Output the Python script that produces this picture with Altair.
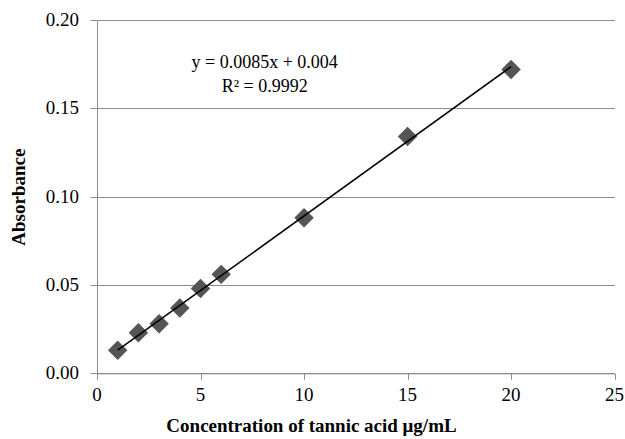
import altair as alt
import pandas as pd

conc = [1, 2, 3, 4, 5, 6, 10, 15, 20]
absorb = [0.013, 0.023, 0.028, 0.037, 0.048, 0.056, 0.088, 0.134, 0.172]

x_ticks = [0, 5, 10, 15, 20, 25]
y_ticks = [0, 0.05, 0.1, 0.15, 0.2]

eq_x = [8.1, 8.1]
eq_y = [0.1757, 0.162]
eq_text = ["y = 0.0085x + 0.004", "R² = 0.9992"]

df = pd.DataFrame({"x": conc, "y": absorb})
ann = pd.DataFrame({"x": eq_x, "y": eq_y, "t": eq_text})
xt = pd.DataFrame({"v": x_ticks})
yt = pd.DataFrame({"v": y_ticks})

FONT = "Liberation Serif"
GRID = "#8c8c8c"

xs = alt.Scale(domain=[0, 25], nice=False, zero=False)
ys = alt.Scale(domain=[0, 0.2], nice=False, zero=False)

xaxis = alt.Axis(
    values=x_ticks, grid=False, labels=False,
    tickSize=6,
    title="Concentration of tannic acid μg/mL", titleX=214, titleY=62, titleBaseline="bottom",
)
yaxis = alt.Axis(
    values=y_ticks, grid=True, gridColor=GRID, gridWidth=1.2, labels=False,
    tickSize=7, title="Absorbance", titleX=-68,
)

base = alt.Chart(df)
points = base.mark_point(shape="diamond", filled=True, size=380, color="#555555", opacity=1).encode(
    x=alt.X("x:Q", scale=xs, axis=xaxis),
    y=alt.Y("y:Q", scale=ys, axis=yaxis),
)
trend = base.transform_regression("x", "y", extent=[1, 20]).mark_line(color="black", strokeWidth=1.5).encode(
    x=alt.X("x:Q", scale=xs, axis=xaxis),
    y=alt.Y("y:Q", scale=ys, axis=yaxis),
)
text = alt.Chart(ann).mark_text(font=FONT, fontSize=18, color="black", align="center", baseline="middle").encode(
    x=alt.X("x:Q", scale=xs, axis=xaxis),
    y=alt.Y("y:Q", scale=ys, axis=yaxis),
    text="t:N",
)
xlabels = alt.Chart(xt).mark_text(font=FONT, fontSize=19, color="black", align="center",
                                  baseline="top", dy=13).encode(
    x=alt.X("v:Q", scale=xs, axis=xaxis),
    y=alt.Y("datum_y:Q", scale=ys, axis=yaxis),
    text=alt.Text("v:Q", format="d"),
).transform_calculate(datum_y="0")
ylabels = alt.Chart(yt).mark_text(font=FONT, fontSize=19, color="black", align="right",
                                  baseline="middle", dx=-18).encode(
    x=alt.X("datum_x:Q", scale=xs, axis=xaxis),
    y=alt.Y("v:Q", scale=ys, axis=yaxis),
    text=alt.Text("v:Q", format=".2f"),
).transform_calculate(datum_x="0")

chart = alt.layer(points, trend, text, xlabels, ylabels).properties(
    width=517.6, height=353.3,
    autosize=alt.AutoSizeParams(type="none"),
    padding={"left": 97, "top": 20, "right": 10, "bottom": 66},
).configure(
    background="white", font=FONT,
).configure_view(stroke=None).configure_axis(
    titleFont=FONT, titleFontSize=19, titleFontWeight="bold", titleColor="black",
    domainColor=GRID, tickColor=GRID,
)

chart.save("out.html", embed_options={"renderer": "svg", "actions": False})
